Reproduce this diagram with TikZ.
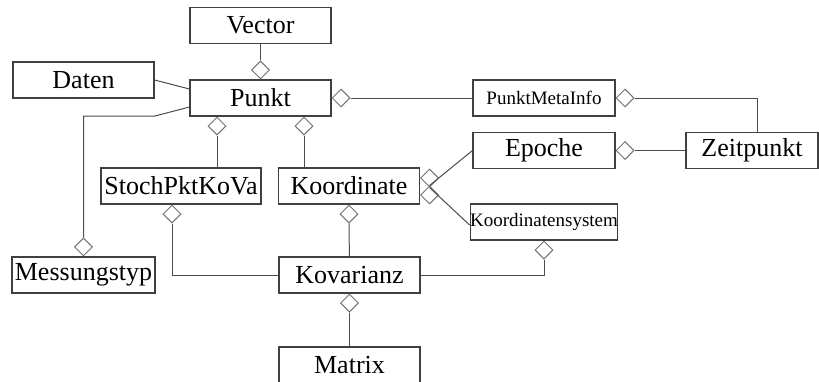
\documentclass[tikz,border=0pt]{standalone}
\usepackage{fontspec}
\setmainfont{Liberation Serif}
\usetikzlibrary{shapes.geometric}

\begin{document}
\begin{tikzpicture}[x=0.5pt,y=-0.5pt]
\tikzset{class/.style = {shape=rectangle,draw=black!75,line width=0.55pt,minimum width=70.5pt,minimum height=18pt,inner sep=0pt,font=\fontsize{13}{15}\selectfont}}
\tikzset{small/.style = {font=\fontsize{9.5}{11}\selectfont}}
\tikzset{agg/.style = {shape=diamond,draw=black!55,line width=0.5pt,fill=white,inner sep=0pt,minimum width=9pt,minimum height=9pt}}
\tikzset{link/.style = {draw=black!70,line width=0.5pt}}
\useasboundingbox (0,0) rectangle (819,381);
\clip (0,0) rectangle (819,381);
% classes
\node[class] (vector) at (260.5,25.5) {Vector};
\node[class] (daten) at (83.5,80) {Daten};
\node[class] (punkt) at (260.5,98) {Punkt};
\node[class,small,minimum width=71pt] (meta) at (544,98) {PunktMetaInfo};
\node[class,minimum width=71pt] (epoche) at (544,150.5) {Epoche};
\node[class,minimum width=66pt] (zeit) at (752,150.5) {Zeitpunkt};
\node[class,minimum width=80pt] (stoch) at (181,186) {StochPktKoVa};
\node[class] (koord) at (349,186) {Koordinate};
\node[class,small,minimum width=71pt] (ksys) at (544,222) {Koordinatensystem};
\node[class,minimum width=71.5pt] (messung) at (83.5,275) {Messungstyp};
\node[class] (kov) at (349.5,275) {Kovarianz};
\node[class] (matrix) at (349.5,365) {Matrix};
% diamonds
\node[agg,anchor=south] (d1) at (punkt.north) {};
\node[agg,anchor=south] (d2) at (messung.north) {};
\node[agg,anchor=north] (d3) at ([xshift=-21.75pt]punkt.south) {};
\node[agg,anchor=north] (d4) at ([xshift=21.75pt]punkt.south) {};
\node[agg,anchor=west] (d5) at (punkt.east) {};
\node[agg,anchor=west] (d6) at (meta.east) {};
\node[agg,anchor=west] (d7) at (epoche.east) {};
\node[agg,anchor=west] (d8) at ([yshift=4pt]koord.east) {};
\node[agg,anchor=west] (d9) at ([yshift=-4.5pt]koord.east) {};
\node[agg,anchor=north] (d10) at ([xshift=-4.5pt]stoch.south) {};
\node[agg,anchor=north] (d11) at (koord.south) {};
\node[agg,anchor=north] (d12) at (kov.south) {};
\node[agg,anchor=north] (d13) at (ksys.south) {};
\coordinate (bend) at (155,116);
% links
\draw[link] (vector) -- (d1);
\draw[link] (daten.east) -- ([yshift=4.5pt]punkt.west);
\draw[link] ([yshift=-4.5pt]punkt.west) -- (bend) -| (d2.north);
\draw[link] (d3) -- (d3 |- stoch.north);
\draw[link] (d4) -- (d4 |- koord.north);
\draw[link] (d5) -- (meta);
\draw[link] (d6.east) -| ([xshift=2.5pt]zeit.north);
\draw[link] (d7) -- (zeit);
\draw[link] (epoche.west) -- (d9.north);
\draw[link] ([yshift=-1.5pt]ksys.west) -- (d8.south);
\draw[link] (d10.south) |- (kov.west);
\draw[link] (d11) -- (kov);
\draw[link] (d12) -- (matrix);
\draw[link] (d13.south) |- (kov.east);
\end{tikzpicture}
\end{document}
